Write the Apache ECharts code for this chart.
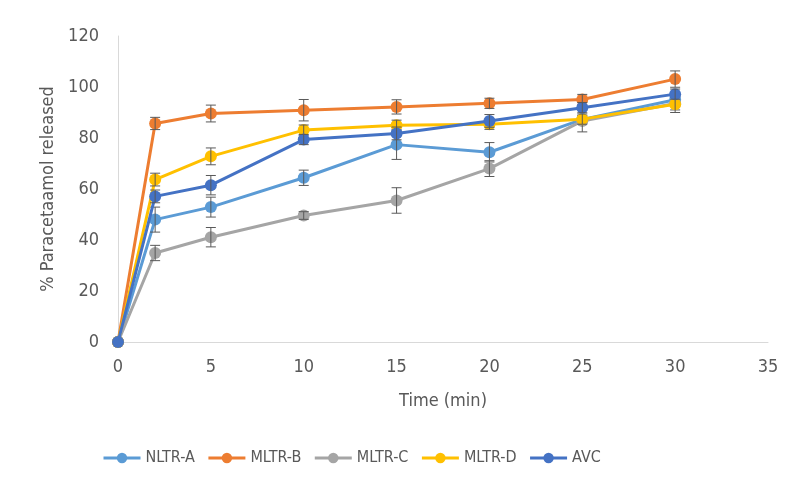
<!DOCTYPE html>
<html>
<head>
<meta charset="utf-8">
<script src="https://cdn.jsdelivr.net/npm/echarts@6/dist/echarts.min.js"></script>
<style>html,body{margin:0;padding:0;background:#fff;}#c{width:790px;height:484px;}</style>
</head>
<body>
<div id="c"></div>
<script>
const times = [0, 2, 5, 10, 15, 20, 25, 30];
const seriesNames = ['NLTR-A', 'MLTR-B', 'MLTR-C', 'MLTR-D', 'AVC'];
const nltrA = [0, 48.0, 52.9, 64.4, 77.4, 74.4, 87.3, 95.0];
const mltrB = [0, 85.7, 89.6, 90.9, 92.2, 93.6, 95.1, 103.1];
const mltrC = [0, 34.9, 41.1, 49.6, 55.5, 68.0, 86.7, 93.5];
const mltrD = [0, 63.7, 72.8, 83.1, 85.0, 85.4, 87.4, 93.2];
const avc = [0, 57.1, 61.5, 79.4, 81.8, 86.7, 91.9, 97.2];
const nltrAErr = [0, 4.9, 3.9, 3.0, 5.8, 3.8, 1.5, 2.0];
const mltrBErr = [0, 2.4, 3.3, 4.2, 2.8, 2.0, 2.0, 3.2];
const mltrCErr = [0, 3.0, 3.8, 1.5, 5.0, 3.1, 4.3, 2.5];
const mltrDErr = [0, 2.5, 3.3, 2.0, 2.0, 2.0, 2.0, 3.2];
const avcErr = [0, 2.5, 3.8, 2.0, 2.5, 2.5, 2.0, 2.0];
const xTicks = [0, 5, 10, 15, 20, 25, 30, 35];
const yTicks = [0, 20, 40, 60, 80, 100, 120];

const values = [nltrA, mltrB, mltrC, mltrD, avc];
const errs = [nltrAErr, mltrBErr, mltrCErr, mltrDErr, avcErr];
const colors = ['#5B9BD5', '#ED7D31', '#A5A5A5', '#FFC000', '#4472C4'];
const FONT = '"Liberation Sans Narrow", "DejaVu Sans Condensed", "Liberation Sans", sans-serif';
const TXT = '#595959';

const series = [];
seriesNames.forEach((name, i) => {
  series.push({
    name: name,
    type: 'line',
    data: times.map((t, j) => [t, values[i][j]]),
    symbol: 'circle',
    symbolSize: 12,
    lineStyle: { width: 3, color: colors[i] },
    itemStyle: { color: colors[i] },
    z: 2 + i * 2
  });
  series.push({
    name: name + ' err',
    type: 'custom',
    data: times.map((t, j) => [t, values[i][j], errs[i][j]]),
    z: 3 + i * 2,
    silent: true,
    renderItem: function (params, api) {
      const x = api.value(0), y = api.value(1), e = api.value(2);
      if (!e) return null;
      const top = api.coord([x, y + e]);
      const bot = api.coord([x, y - e]);
      const hw = 5;
      const st = { stroke: '#595959', lineWidth: 1 };
      return {
        type: 'group',
        children: [
          { type: 'line', shape: { x1: top[0], y1: top[1], x2: bot[0], y2: bot[1] }, style: st },
          { type: 'line', shape: { x1: top[0] - hw, y1: top[1], x2: top[0] + hw, y2: top[1] }, style: st },
          { type: 'line', shape: { x1: bot[0] - hw, y1: bot[1], x2: bot[0] + hw, y2: bot[1] }, style: st }
        ]
      };
    }
  });
});

const chart = echarts.init(document.getElementById('c'), null, { renderer: 'canvas' });
chart.setOption({
  animation: false,
  backgroundColor: '#fff',
  grid: { left: 118, right: 22, top: 36, bottom: 142, containLabel: false },
  legend: {
    data: seriesNames,
    bottom: 13,
    left: 97,
    itemWidth: 37,
    itemHeight: 13,
    itemGap: 12,
    lineStyle: { width: 3 },
    textStyle: { color: TXT, fontSize: 16, fontFamily: FONT }
  },
  xAxis: {
    type: 'value',
    min: xTicks[0],
    max: xTicks[xTicks.length - 1],
    interval: 5,
    name: 'Time (min)',
    nameLocation: 'middle',
    nameGap: 50,
    nameTextStyle: { color: TXT, fontSize: 18, fontFamily: FONT },
    axisLine: { show: true, lineStyle: { color: '#D9D9D9', width: 1 } },
    axisTick: { show: false },
    splitLine: { show: false },
    axisLabel: { color: TXT, fontSize: 18, fontFamily: FONT, margin: 16 }
  },
  yAxis: {
    type: 'value',
    min: yTicks[0],
    max: yTicks[yTicks.length - 1],
    interval: 20,
    name: '% Paracetaamol released',
    nameLocation: 'middle',
    nameRotate: 90,
    nameGap: 60,
    nameTextStyle: { color: TXT, fontSize: 18, fontFamily: FONT },
    axisLine: { show: true, lineStyle: { color: '#D9D9D9', width: 1 } },
    axisTick: { show: false },
    splitLine: { show: false },
    axisLabel: { color: TXT, fontSize: 18, fontFamily: FONT, margin: 19 }
  },
  series: series
});
</script>
</body>
</html>
